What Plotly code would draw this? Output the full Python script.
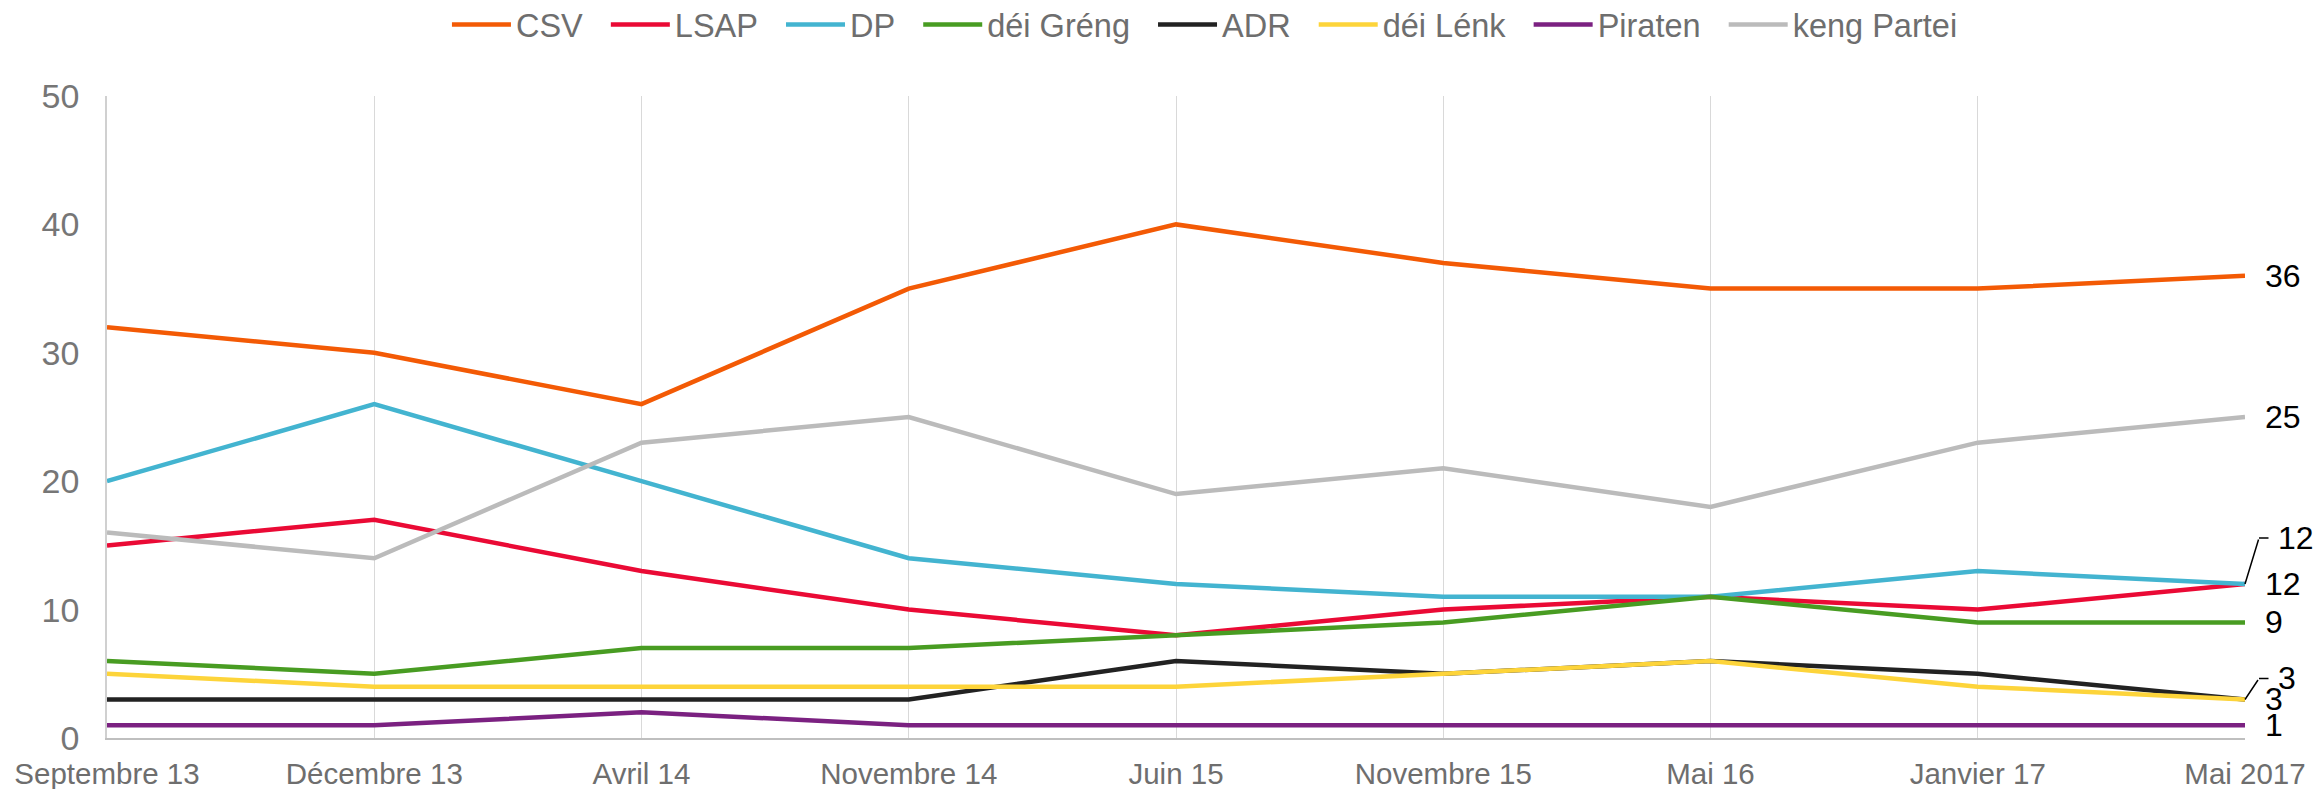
import plotly.graph_objects as go

months = ["Septembre 13", "Décembre 13", "Avril 14", "Novembre 14", "Juin 15",
          "Novembre 15", "Mai 16", "Janvier 17", "Mai 2017"]

csv = [32, 30, 26, 35, 40, 37, 35, 35, 36]
lsap = [15, 17, 13, 10, 8, 10, 11, 10, 12]
dp = [20, 26, 20, 14, 12, 11, 11, 13, 12]
greng = [6, 5, 7, 7, 8, 9, 11, 9, 9]
adr = [3, 3, 3, 3, 6, 5, 6, 5, 3]
lenk = [5, 4, 4, 4, 4, 5, 6, 4, 3]
piraten = [1, 1, 2, 1, 1, 1, 1, 1, 1]
keng_partei = [16, 14, 23, 25, 19, 21, 18, 23, 25]

parties = [
    ("CSV", csv, "#f35a05"),
    ("LSAP", lsap, "#ea0a35"),
    ("DP", dp, "#43b4d0"),
    ("déi Gréng", greng, "#489c22"),
    ("ADR", adr, "#222222"),
    ("déi Lénk", lenk, "#fdd43a"),
    ("Piraten", piraten, "#7b2181"),
    ("keng Partei", keng_partei, "#bbbbbb"),
]

# parties whose end label is lifted with a leader line (pixels up)
lifted = {"DP": 46, "déi Lénk": 21}

fig = go.Figure()
for name, values, color in parties:
    fig.add_trace(
        go.Scatter(
            x=months,
            y=values,
            mode="lines",
            name=name + "\u00a0\u00a0",  # a bit of air between legend entries
            line={"color": color, "width": 4.5},
        )
    )

last = len(months) - 1
for name, values, color in parties:
    lift = lifted.get(name, 0)
    fig.add_annotation(
        x=last,
        y=values[-1],
        text=str(values[-1]),
        showarrow=False,
        xanchor="left",
        yanchor="middle",
        xshift=31 if lift else 18,
        yshift=lift,
        font={"size": 32, "color": "#000000"},
    )
    if lift:
        # diagonal part of the leader line
        fig.add_annotation(
            x=last, y=values[-1], text="", showarrow=True,
            ax=14, ay=-lift, arrowhead=0, arrowwidth=1.5,
            arrowcolor="#000000", standoff=0, startstandoff=0,
        )
        # short horizontal part
        fig.add_annotation(
            x=last, y=values[-1], text="", showarrow=True,
            xshift=14, yshift=lift, ax=11, ay=0, arrowhead=0,
            arrowwidth=1.5, arrowcolor="#000000", standoff=0, startstandoff=0,
        )

fig.update_xaxes(
    type="category",
    range=[0, len(months) - 1],
    showgrid=True,
    gridcolor="#d9d9d9",
    gridwidth=1,
    showline=True,
    linecolor="#bfbfbf",
    linewidth=2,
    ticks="",
    ticklabelstandoff=9,
    tickfont={"size": 29.5, "color": "#6e6e6e"},
)
fig.update_yaxes(
    range=[0, 50],
    dtick=10,
    showgrid=False,
    zeroline=False,
    showline=True,
    linecolor="#d0d0d0",
    linewidth=1.5,
    ticks="",
    ticklabelstandoff=19,
    tickfont={"size": 34, "color": "#767676"},
)
fig.update_layout(
    width=2320,
    height=789,
    plot_bgcolor="white",
    paper_bgcolor="white",
    font={"family": "Liberation Sans, Arial"},
    showlegend=True,
    legend={
        "orientation": "h",
        "x": 0.159,
        "xanchor": "left",
        "y": 1.1106,
        "yanchor": "middle",
        "font": {"size": 32.5, "color": "#6e6e6e"},
        "itemwidth": 59,
    },
    margin={"t": 96, "l": 107, "r": 75, "b": 51, "autoexpand": False},
)

fig.write_html(
    "out.html",
    config={"displayModeBar": False},
    post_script="document.body.style.margin = '0';",
)
